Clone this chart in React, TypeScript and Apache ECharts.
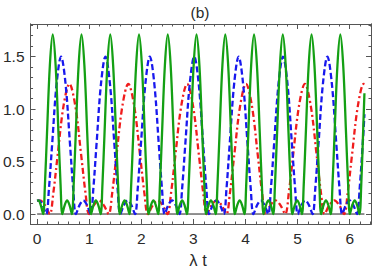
import React, { useEffect, useRef } from 'react';
import * as echarts from 'echarts';

// ---- data ----
const xMajorTicks = [0, 1, 2, 3, 4, 5, 6];
const xMinorTicks = [0.2, 0.4, 0.6, 0.8, 1.2, 1.4, 1.6, 1.8, 2.2, 2.4, 2.6, 2.8, 3.2, 3.4, 3.6, 3.8, 4.2, 4.4, 4.6, 4.8, 5.2, 5.4, 5.6, 5.8, 6.2, 6.4];
const yMajorTicks = [0, 0.5, 1, 1.5];
const yMinorTicks = [0.1, 0.2, 0.3, 0.4, 0.6, 0.7, 0.8, 0.9, 1.1, 1.2, 1.3, 1.4, 1.6, 1.7, 1.8];

const zeroAxisLine = [[0, 0], [6.283, 0]];

const redDotDashed = [
  [0, 0.125], [0.055, 0.13], [0.149, 0.085], [0.243, 0],
  [0.311, 0.2], [0.394, 0.56], [0.507, 1.03], [0.62, 1.24], [0.733, 1.03], [0.846, 0.56], [0.929, 0.2], [0.997, 0], [1.091, 0.085], [1.185, 0.13], [1.279, 0.085], [1.373, 0],
  [1.441, 0.2], [1.524, 0.56], [1.637, 1.03], [1.75, 1.24], [1.863, 1.03], [1.976, 0.56], [2.059, 0.2], [2.127, 0], [2.221, 0.085], [2.315, 0.13], [2.409, 0.085], [2.503, 0],
  [2.571, 0.2], [2.654, 0.56], [2.767, 1.03], [2.88, 1.24], [2.993, 1.03], [3.106, 0.56], [3.189, 0.2], [3.257, 0], [3.351, 0.085], [3.445, 0.13], [3.539, 0.085], [3.633, 0],
  [3.701, 0.2], [3.784, 0.56], [3.897, 1.03], [4.01, 1.24], [4.123, 1.03], [4.236, 0.56], [4.319, 0.2], [4.387, 0], [4.481, 0.085], [4.575, 0.13], [4.669, 0.085], [4.763, 0],
  [4.831, 0.2], [4.914, 0.56], [5.027, 1.03], [5.14, 1.24], [5.253, 1.03], [5.366, 0.56], [5.449, 0.2], [5.517, 0], [5.611, 0.085], [5.705, 0.13], [5.799, 0.085], [5.893, 0],
  [5.961, 0.2], [6.044, 0.56], [6.157, 1.03], [6.27, 1.24], [6.283, 1.238],
];

const blueDashed = [
  [0, 0.125], [0.034, 0.13], [0.105, 0.085], [0.176, 0],
  [0.227, 0.24], [0.29, 0.675], [0.375, 1.245], [0.46, 1.5], [0.545, 1.245], [0.63, 0.675], [0.693, 0.24], [0.744, 0], [0.815, 0.085], [0.886, 0.13], [0.957, 0.085], [1.028, 0],
  [1.079, 0.24], [1.142, 0.675], [1.227, 1.245], [1.312, 1.5], [1.397, 1.245], [1.482, 0.675], [1.545, 0.24], [1.596, 0], [1.667, 0.085], [1.738, 0.13], [1.809, 0.085], [1.88, 0],
  [1.931, 0.24], [1.994, 0.675], [2.079, 1.245], [2.164, 1.5], [2.249, 1.245], [2.334, 0.675], [2.397, 0.24], [2.448, 0], [2.519, 0.085], [2.59, 0.13], [2.661, 0.085], [2.732, 0],
  [2.783, 0.24], [2.846, 0.675], [2.931, 1.245], [3.016, 1.5], [3.101, 1.245], [3.186, 0.675], [3.249, 0.24], [3.3, 0], [3.371, 0.085], [3.442, 0.13], [3.513, 0.085], [3.584, 0],
  [3.635, 0.24], [3.698, 0.675], [3.783, 1.245], [3.868, 1.5], [3.953, 1.245], [4.038, 0.675], [4.101, 0.24], [4.152, 0], [4.223, 0.085], [4.294, 0.13], [4.365, 0.085], [4.436, 0],
  [4.487, 0.24], [4.55, 0.675], [4.635, 1.245], [4.72, 1.5], [4.805, 1.245], [4.89, 0.675], [4.953, 0.24], [5.004, 0], [5.075, 0.085], [5.146, 0.13], [5.217, 0.085], [5.288, 0],
  [5.339, 0.24], [5.402, 0.675], [5.487, 1.245], [5.572, 1.5], [5.657, 1.245], [5.742, 0.675], [5.805, 0.24], [5.856, 0], [5.927, 0.085], [5.998, 0.13], [6.069, 0.085], [6.14, 0],
  [6.191, 0.24], [6.254, 0.7], [6.283, 0.95],
];

const greenSolid = [
  [0, 0.128], [0.024, 0.13], [0.07, 0.085], [0.116, 0],
  [0.149, 0.27], [0.19, 0.77], [0.245, 1.42], [0.3, 1.71], [0.355, 1.42], [0.41, 0.77], [0.451, 0.27], [0.484, 0], [0.53, 0.085], [0.576, 0.13], [0.622, 0.085], [0.668, 0],
  [0.701, 0.27], [0.742, 0.77], [0.797, 1.42], [0.852, 1.71], [0.907, 1.42], [0.962, 0.77], [1.003, 0.27], [1.036, 0], [1.082, 0.085], [1.128, 0.13], [1.174, 0.085], [1.22, 0],
  [1.253, 0.27], [1.294, 0.77], [1.349, 1.42], [1.404, 1.71], [1.459, 1.42], [1.514, 0.77], [1.555, 0.27], [1.588, 0], [1.634, 0.085], [1.68, 0.13], [1.726, 0.085], [1.772, 0],
  [1.805, 0.27], [1.846, 0.77], [1.901, 1.42], [1.956, 1.71], [2.011, 1.42], [2.066, 0.77], [2.107, 0.27], [2.14, 0], [2.186, 0.085], [2.232, 0.13], [2.278, 0.085], [2.324, 0],
  [2.357, 0.27], [2.398, 0.77], [2.453, 1.42], [2.508, 1.71], [2.563, 1.42], [2.618, 0.77], [2.659, 0.27], [2.692, 0], [2.738, 0.085], [2.784, 0.13], [2.83, 0.085], [2.876, 0],
  [2.909, 0.27], [2.95, 0.77], [3.005, 1.42], [3.06, 1.71], [3.115, 1.42], [3.17, 0.77], [3.211, 0.27], [3.244, 0], [3.29, 0.085], [3.336, 0.13], [3.382, 0.085], [3.428, 0],
  [3.461, 0.27], [3.502, 0.77], [3.557, 1.42], [3.612, 1.71], [3.667, 1.42], [3.722, 0.77], [3.763, 0.27], [3.796, 0], [3.842, 0.085], [3.888, 0.13], [3.934, 0.085], [3.98, 0],
  [4.013, 0.27], [4.054, 0.77], [4.109, 1.42], [4.164, 1.71], [4.219, 1.42], [4.274, 0.77], [4.315, 0.27], [4.348, 0], [4.394, 0.085], [4.44, 0.13], [4.486, 0.085], [4.532, 0],
  [4.565, 0.27], [4.606, 0.77], [4.661, 1.42], [4.716, 1.71], [4.771, 1.42], [4.826, 0.77], [4.867, 0.27], [4.9, 0], [4.946, 0.085], [4.992, 0.13], [5.038, 0.085], [5.084, 0],
  [5.117, 0.27], [5.158, 0.77], [5.213, 1.42], [5.268, 1.71], [5.323, 1.42], [5.378, 0.77], [5.419, 0.27], [5.452, 0], [5.498, 0.085], [5.544, 0.13], [5.59, 0.085], [5.636, 0],
  [5.669, 0.27], [5.71, 0.77], [5.765, 1.42], [5.82, 1.71], [5.875, 1.42], [5.93, 0.77], [5.971, 0.27], [6.004, 0], [6.05, 0.085], [6.096, 0.13], [6.142, 0.085], [6.188, 0],
  [6.221, 0.27], [6.262, 0.85], [6.283, 1.15],
];

// ---- layout / style ----
const X_MIN = -0.126;
const X_MAX = 6.409;
const Y_MIN = -0.095;
const Y_MAX = 1.81;
const FRAME = '#555555';
const TEXT = '#2a2a2a';
const FONT = '"Liberation Sans", Arial, sans-serif';

function frameAxis(pos: string, min: number, max: number, ticks: number[], len: number, labels: boolean, fmt?: (v: number) => string) {
  return {
    type: 'value',
    position: pos,
    min,
    max,
    splitLine: { show: false },
    axisLine: { show: true, onZero: false, lineStyle: { color: FRAME, width: 1 } },
    axisTick: { show: true, inside: true, length: len, customValues: ticks, lineStyle: { color: FRAME, width: 1 } },
    axisLabel: labels
      ? { show: true, customValues: ticks, margin: 6, fontSize: 15.5, color: TEXT, fontFamily: FONT, formatter: fmt }
      : { show: false },
  };
}

export default function App() {
  const ref = useRef<HTMLDivElement>(null);
  useEffect(() => {
    if (!ref.current) return;
    const chart = echarts.init(ref.current, null, { renderer: 'svg' });
    const option: any = {
      animation: false,
      backgroundColor: '#ffffff',
      grid: { left: 28, right: 3, top: 24, bottom: 49, containLabel: false },
      xAxis: [
        frameAxis('bottom', X_MIN, X_MAX, xMajorTicks, 5, true, (v: number) => String(v)),
        frameAxis('bottom', X_MIN, X_MAX, xMinorTicks, 2.5, false),
        frameAxis('top', X_MIN, X_MAX, xMajorTicks, 5, false),
        frameAxis('top', X_MIN, X_MAX, xMinorTicks, 2.5, false),
      ],
      yAxis: [
        frameAxis('left', Y_MIN, Y_MAX, yMajorTicks, 5, true, (v: number) => v.toFixed(1)),
        frameAxis('left', Y_MIN, Y_MAX, yMinorTicks, 2.5, false),
        frameAxis('right', Y_MIN, Y_MAX, yMajorTicks, 5, false),
        frameAxis('right', Y_MIN, Y_MAX, yMinorTicks, 2.5, false),
      ],
      series: [
        {
          type: 'line', xAxisIndex: 0, yAxisIndex: 0, data: zeroAxisLine, showSymbol: false, silent: true,
          lineStyle: { color: '#222222', width: 1 },
        },
        {
          type: 'line', xAxisIndex: 0, yAxisIndex: 0, data: redDotDashed, showSymbol: false, smooth: 0.35,
          lineStyle: { color: '#f01c1c', width: 2.3, type: [6, 3, 2, 3] },
        },
        {
          type: 'line', xAxisIndex: 0, yAxisIndex: 0, data: blueDashed, showSymbol: false, smooth: 0.35,
          lineStyle: { color: '#1818ee', width: 2.3, type: [6, 3] },
        },
        {
          type: 'line', xAxisIndex: 0, yAxisIndex: 0, data: greenSolid, showSymbol: false, smooth: 0.35,
          lineStyle: { color: '#14a014', width: 2.3 },
        },
      ],
      graphic: [
        { type: 'text', x: 200, y: 12, style: { text: '(b)', fontSize: 15.5, fill: TEXT, fontFamily: FONT, align: 'center', verticalAlign: 'middle' } },
        { type: 'text', x: 198, y: 260, style: { text: 'λ t', fontSize: 16.5, fill: TEXT, fontFamily: FONT, align: 'center', verticalAlign: 'middle' } },
      ],
    };
    chart.setOption(option);
    return () => chart.dispose();
  }, []);
  return <div ref={ref} style={{ position: 'fixed', left: 0, top: 0, width: 374, height: 273, background: '#fff' }} />;
}
